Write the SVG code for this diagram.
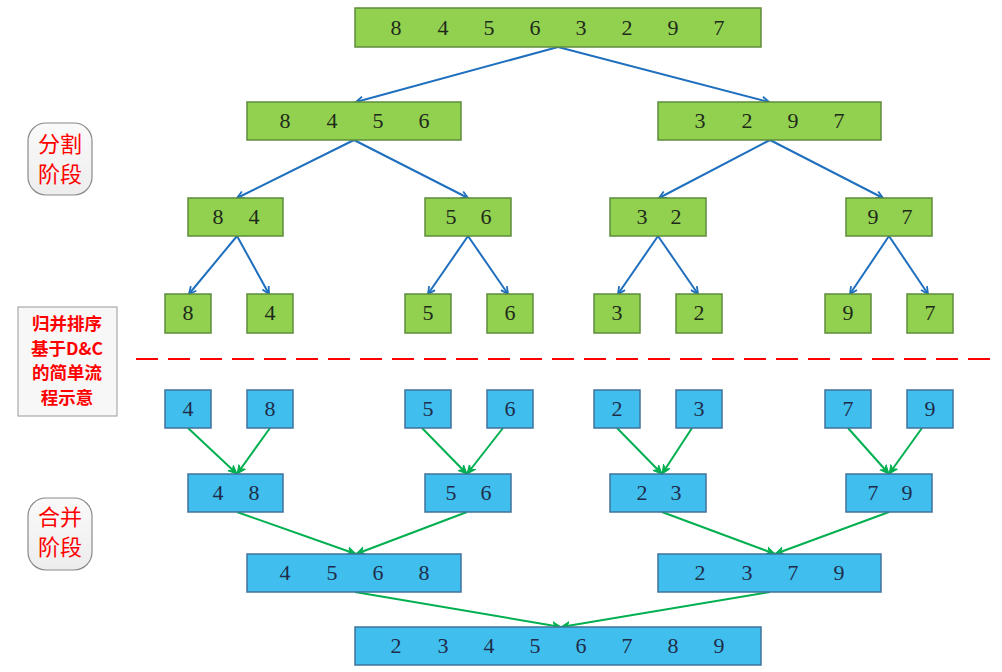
<svg xmlns="http://www.w3.org/2000/svg" width="1002" height="672" viewBox="0 0 1002 672">
<defs>
<marker id="ab" viewBox="0 0 10 10" refX="9" refY="5" markerWidth="9" markerHeight="9" markerUnits="userSpaceOnUse" orient="auto">
<path d="M1,1 L9,5 L1,9" fill="none" stroke="#1F6FBF" stroke-width="2"/>
</marker>
<marker id="ag" viewBox="0 0 10 10" refX="9" refY="5" markerWidth="10" markerHeight="10" markerUnits="userSpaceOnUse" orient="auto">
<path d="M0,1 L9,5 L0,9 L3,5 Z" fill="#00B050" stroke="#00B050" stroke-width="1"/>
</marker>
<linearGradient id="lg" x1="0" y1="0" x2="0" y2="1">
<stop offset="0" stop-color="#FAFAFA"/><stop offset="1" stop-color="#EDEDED"/>
</linearGradient>
</defs>
<style>
.g{fill:#92D050;stroke:#5E8C3C;stroke-width:1.5}
.b{fill:#40BFEF;stroke:#41719C;stroke-width:1.5}
.t{font-family:"Liberation Serif","DejaVu Serif",serif;font-size:22px;text-anchor:middle}
.tg{fill:#1E2A1A}
.tb{fill:#1F2D4A}
.cb{stroke:#1F6FBF;stroke-width:2;fill:none;marker-end:url(#ab)}
.cg{stroke:#00B050;stroke-width:2;fill:none;marker-end:url(#ag)}
.lab{font-family:"Noto Sans CJK SC","Noto Sans CJK JP",sans-serif;fill:#FF0000;text-anchor:middle}
</style>
<rect width="1002" height="672" fill="#FFFFFF"/>

<g id="connectors">
<line class="cb" x1="558" y1="47" x2="356" y2="102"/>
<line class="cb" x1="558" y1="47" x2="769" y2="102"/>
<line class="cb" x1="354" y1="140" x2="237" y2="198"/>
<line class="cb" x1="354" y1="140" x2="468" y2="198"/>
<line class="cb" x1="770" y1="140" x2="659" y2="198"/>
<line class="cb" x1="770" y1="140" x2="883" y2="198"/>
<line class="cb" x1="237" y1="236" x2="189" y2="294"/>
<line class="cb" x1="237" y1="236" x2="269" y2="294"/>
<line class="cb" x1="468" y1="236" x2="428" y2="294"/>
<line class="cb" x1="468" y1="236" x2="508" y2="294"/>
<line class="cb" x1="658" y1="236" x2="618" y2="294"/>
<line class="cb" x1="658" y1="236" x2="698" y2="294"/>
<line class="cb" x1="889" y1="236" x2="850" y2="294"/>
<line class="cb" x1="889" y1="236" x2="928" y2="294"/>

<line class="cg" x1="188" y1="428" x2="237" y2="474"/>
<line class="cg" x1="270" y1="428" x2="237" y2="474"/>
<line class="cg" x1="422" y1="428" x2="467" y2="474"/>
<line class="cg" x1="503" y1="428" x2="467" y2="474"/>
<line class="cg" x1="617" y1="428" x2="662" y2="474"/>
<line class="cg" x1="692" y1="428" x2="662" y2="474"/>
<line class="cg" x1="848" y1="428" x2="889" y2="474"/>
<line class="cg" x1="922" y1="428" x2="889" y2="474"/>
<line class="cg" x1="237" y1="512" x2="356" y2="554"/>
<line class="cg" x1="467" y1="512" x2="356" y2="554"/>
<line class="cg" x1="662" y1="512" x2="775" y2="554"/>
<line class="cg" x1="889" y1="512" x2="775" y2="554"/>
<line class="cg" x1="355" y1="592" x2="561" y2="627"/>
<line class="cg" x1="770" y1="592" x2="561" y2="627"/>
</g>

<line x1="136" y1="359" x2="992" y2="359" stroke="#FF0000" stroke-width="2" stroke-dasharray="22,10"/>

<g id="lbl-split">
<rect x="28" y="123" width="64" height="72" rx="18" fill="url(#lg)" stroke="#8A8A8A" stroke-width="1.2"/>
<text class="lab" x="60" y="152" font-size="22">分割</text>
<text class="lab" x="60" y="182" font-size="22">阶段</text>
</g>
<g id="lbl-desc">
<rect x="18" y="307" width="99" height="109" fill="#F7F7F7" stroke="#9A9A9A" stroke-width="1"/>
<text class="lab" x="67" y="330" font-size="17.5" font-weight="bold">归并排序</text>
<text class="lab" x="67" y="355" font-size="17.5" font-weight="bold">基于D&amp;C</text>
<text class="lab" x="67" y="379" font-size="17.5" font-weight="bold">的简单流</text>
<text class="lab" x="67" y="404" font-size="17.5" font-weight="bold">程示意</text>
</g>
<g id="lbl-merge">
<rect x="28" y="498" width="64" height="72" rx="18" fill="url(#lg)" stroke="#8A8A8A" stroke-width="1.2"/>
<text class="lab" x="60" y="525" font-size="22">合并</text>
<text class="lab" x="60" y="555" font-size="22">阶段</text>
</g>

<g id="s1">
<rect class="g" x="355" y="8" width="406" height="39"/>
<text class="t tg" y="35"><tspan x="396">8</tspan><tspan x="443">4</tspan><tspan x="489">5</tspan><tspan x="535">6</tspan><tspan x="581">3</tspan><tspan x="627">2</tspan><tspan x="673">9</tspan><tspan x="719">7</tspan></text>
</g>
<g id="s2a">
<rect class="g" x="247" y="102" width="214" height="38"/>
<text class="t tg" y="128"><tspan x="285">8</tspan><tspan x="332">4</tspan><tspan x="378">5</tspan><tspan x="424">6</tspan></text>
</g>
<g id="s2b">
<rect class="g" x="658" y="102" width="223" height="38"/>
<text class="t tg" y="128"><tspan x="700">3</tspan><tspan x="747">2</tspan><tspan x="793">9</tspan><tspan x="839">7</tspan></text>
</g>
<g id="s3a"><rect class="g" x="188" y="198" width="95" height="38"/><text class="t tg" y="224"><tspan x="218">8</tspan><tspan x="254">4</tspan></text></g>
<g id="s3b"><rect class="g" x="425" y="198" width="86" height="38"/><text class="t tg" y="224"><tspan x="451">5</tspan><tspan x="486">6</tspan></text></g>
<g id="s3c"><rect class="g" x="610" y="198" width="96" height="38"/><text class="t tg" y="224"><tspan x="642">3</tspan><tspan x="676">2</tspan></text></g>
<g id="s3d"><rect class="g" x="846" y="198" width="86" height="38"/><text class="t tg" y="224"><tspan x="873">9</tspan><tspan x="907">7</tspan></text></g>

<g id="s4a"><rect class="g" x="165" y="294" width="46" height="39"/><text class="t tg" x="188" y="320">8</text></g>
<g id="s4b"><rect class="g" x="247" y="294" width="46" height="39"/><text class="t tg" x="270" y="320">4</text></g>
<g id="s4c"><rect class="g" x="405" y="294" width="46" height="39"/><text class="t tg" x="428" y="320">5</text></g>
<g id="s4d"><rect class="g" x="487" y="294" width="46" height="39"/><text class="t tg" x="510" y="320">6</text></g>
<g id="s4e"><rect class="g" x="594" y="294" width="46" height="39"/><text class="t tg" x="617" y="320">3</text></g>
<g id="s4f"><rect class="g" x="676" y="294" width="46" height="39"/><text class="t tg" x="699" y="320">2</text></g>
<g id="s4g"><rect class="g" x="825" y="294" width="46" height="39"/><text class="t tg" x="848" y="320">9</text></g>
<g id="s4h"><rect class="g" x="907" y="294" width="46" height="39"/><text class="t tg" x="930" y="320">7</text></g>

<g id="m1a"><rect class="b" x="165" y="390" width="46" height="38"/><text class="t tb" x="188" y="416">4</text></g>
<g id="m1b"><rect class="b" x="247" y="390" width="46" height="38"/><text class="t tb" x="270" y="416">8</text></g>
<g id="m1c"><rect class="b" x="405" y="390" width="46" height="38"/><text class="t tb" x="428" y="416">5</text></g>
<g id="m1d"><rect class="b" x="487" y="390" width="46" height="38"/><text class="t tb" x="510" y="416">6</text></g>
<g id="m1e"><rect class="b" x="594" y="390" width="46" height="38"/><text class="t tb" x="617" y="416">2</text></g>
<g id="m1f"><rect class="b" x="676" y="390" width="46" height="38"/><text class="t tb" x="699" y="416">3</text></g>
<g id="m1g"><rect class="b" x="825" y="390" width="46" height="38"/><text class="t tb" x="848" y="416">7</text></g>
<g id="m1h"><rect class="b" x="907" y="390" width="46" height="38"/><text class="t tb" x="930" y="416">9</text></g>

<g id="m2a"><rect class="b" x="188" y="474" width="95" height="38"/><text class="t tb" y="500"><tspan x="218">4</tspan><tspan x="254">8</tspan></text></g>
<g id="m2b"><rect class="b" x="425" y="474" width="86" height="38"/><text class="t tb" y="500"><tspan x="451">5</tspan><tspan x="486">6</tspan></text></g>
<g id="m2c"><rect class="b" x="610" y="474" width="96" height="38"/><text class="t tb" y="500"><tspan x="642">2</tspan><tspan x="676">3</tspan></text></g>
<g id="m2d"><rect class="b" x="846" y="474" width="86" height="38"/><text class="t tb" y="500"><tspan x="873">7</tspan><tspan x="907">9</tspan></text></g>

<g id="m3a"><rect class="b" x="247" y="554" width="214" height="38"/><text class="t tb" y="580"><tspan x="285">4</tspan><tspan x="332">5</tspan><tspan x="378">6</tspan><tspan x="424">8</tspan></text></g>
<g id="m3b"><rect class="b" x="658" y="554" width="223" height="38"/><text class="t tb" y="580"><tspan x="700">2</tspan><tspan x="747">3</tspan><tspan x="793">7</tspan><tspan x="839">9</tspan></text></g>

<g id="m4"><rect class="b" x="355" y="627" width="406" height="38"/><text class="t tb" y="653"><tspan x="396">2</tspan><tspan x="443">3</tspan><tspan x="489">4</tspan><tspan x="535">5</tspan><tspan x="581">6</tspan><tspan x="627">7</tspan><tspan x="673">8</tspan><tspan x="719">9</tspan></text></g>
</svg>
